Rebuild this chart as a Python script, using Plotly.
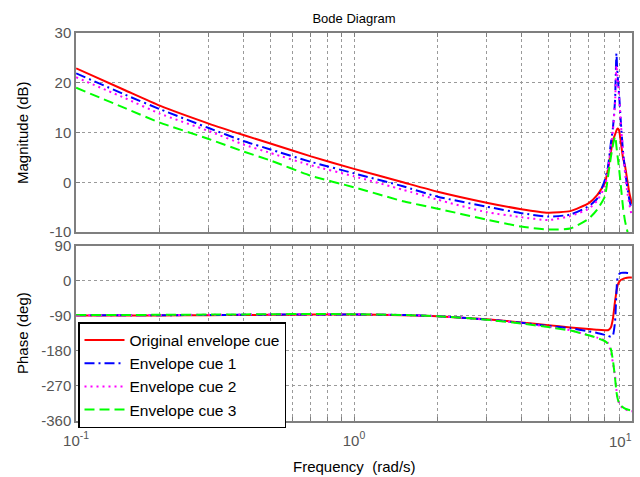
import plotly.graph_objects as go

# Frequency grid (rad/s)
freq = [0.1, 0.15, 0.2, 0.3, 0.4, 0.5, 0.7, 1.0, 1.5, 2, 3, 4, 5, 6, 7, 7.5, 8, 8.2, 8.4,
        8.55, 8.7, 8.75, 8.8, 8.85, 8.9, 9.0, 9.15, 9.3, 9.45, 9.6, 9.8, 10]

series_names = ["Original envelope cue", "Envelope cue 1", "Envelope cue 2", "Envelope cue 3"]

# Magnitude (dB)
mag_orig = [22.9, 18.5, 15.4, 11.8, 9.5, 7.8, 5.2, 2.7, 0.0, -1.9, -4.1, -5.4, -6.1, -5.8, -4.2, -2.6,
            -0.1, 2.5, 6.0, 8.5, 9.6, 10.0, 10.4, 10.7, 10.8, 10.4, 7.6, 4.8, 3.3, 0.9, -2.2, -4.3]
mag_cue1 = [21.9, 17.6, 14.7, 10.9, 8.3, 6.6, 4.1, 1.8, -0.8, -2.9, -4.9, -6.2, -6.9, -6.5, -4.8, -3.3,
            0.5, 3.0, 7.8, 11.0, 16.5, 21.5, 25.9, 23.0, 21.0, 17.5, 11.2, 6.0, 2.5, -0.5, -3.6, -5.5]
mag_cue2 = [21.1, 16.9, 13.8, 10.3, 7.6, 5.9, 3.4, 1.2, -1.5, -3.5, -6.0, -7.0, -7.6, -6.8, -5.3, -3.7,
            -0.8, 2.5, 7.0, 10.5, 16.0, 20.0, 23.5, 22.0, 20.5, 17.0, 11.0, 6.0, 2.0, -1.5, -4.5, -6.8]
mag_cue3 = [19.0, 14.9, 12.0, 8.7, 6.2, 4.4, 1.3, -1.0, -3.8, -5.3, -7.5, -8.9, -9.5, -9.3, -7.3, -5.5,
            -2.8, 1.0, 5.0, 7.5, 9.2, 8.6, 7.2, 6.0, 4.9, 2.6, -1.3, -5.2, -7.8, -9.5, -11.5, -13.0]

# Phase (deg)
ph_orig = [-89, -89, -89, -88.5, -88, -87.5, -87, -87, -88.5, -91, -99, -107, -114, -120, -124, -126,
           -127, -127, -120, -97, -52, -40, -28, -18, -10, -3, 2.5, 4.5, 6.5, 7.5, 8, 8.5]
ph_cue1 = [-88.5, -88.5, -88.5, -88, -87.5, -87, -86.5, -86.5, -88, -91, -99.5, -108, -116, -122, -130, -134,
           -139, -141, -144, -140, -105, -70, -30, 0, 10, 17, 20, 20.5, 20.5, 20, 19.5, 19]
ph_cue2 = [-88.5, -88.5, -88, -87.5, -87, -86.5, -86, -86, -88, -91, -100, -109, -118, -127, -140, -146,
           -153, -160, -182, -212, -245, -262, -280, -292, -302, -315, -323, -327, -330, -332, -334, -335]
ph_cue3 = [-88, -88, -87.5, -87, -86.5, -86, -85.5, -86, -88, -91, -100, -110, -119, -128, -140, -147,
           -155, -162, -175, -205, -250, -268, -285, -296, -304, -314, -321, -325, -328, -330, -332, -333]

mags = [mag_orig, mag_cue1, mag_cue2, mag_cue3]
phases = [ph_orig, ph_cue1, ph_cue2, ph_cue3]
colors = ["#ff0000", "#0000ff", "#ff00ff", "#00ff00"]
dashes = ["solid", "10px,4px,2px,4px", "2px,4px", "10px,5px"]

mag_ticks = [-10, 0, 10, 20, 30]
phase_ticks = [-360, -270, -180, -90, 0, 90]

fig = go.Figure()
for name, m, c, d in zip(series_names, mags, colors, dashes):
    fig.add_trace(go.Scatter(x=freq, y=m, mode="lines", name=name, showlegend=False,
                             line=dict(color=c, dash=d, width=2, shape="spline", smoothing=0.5),
                             xaxis="x", yaxis="y"))
for name, p, c, d in zip(series_names, phases, colors, dashes):
    fig.add_trace(go.Scatter(x=freq, y=p, mode="lines", name=name, showlegend=True,
                             line=dict(color=c, dash=d, width=2, shape="spline", smoothing=0.5),
                             xaxis="x2", yaxis="y2"))

grid_vals = [0.1, 0.2, 0.3, 0.4, 0.5, 0.6, 0.7, 0.8, 0.9, 1, 2, 3, 4, 5, 6, 7, 8, 9, 10]
grid_text = ["10<sup>-1</sup>" if v == 0.1 else "10<sup>0</sup>" if v == 1 else "" for v in grid_vals]
last_tick_text = "10<sup>1</sup>"

tick_font = dict(family="Liberation Sans, Arial", size=15, color="#555555")
axis_common = dict(showline=True, linecolor="#7f7f7f", linewidth=1.5, mirror="ticks",
                   ticks="inside", ticklen=4, tickcolor="#7f7f7f", automargin=False,
                   showgrid=True, gridcolor="#9a9a9a", griddash="dot", gridwidth=1,
                   zeroline=False, tickfont=tick_font)

xrange_log = [-1.0005, 1.0005]

fig.update_layout(
    width=640, height=477,
    margin=dict(l=76, r=8, t=33, b=56),
    paper_bgcolor="white", plot_bgcolor="white",
    font=dict(family="Liberation Sans, Arial", size=13, color="black"),
    title=dict(text="Bode Diagram", x=0.5, xref="paper", xanchor="center", automargin=False,
               y=1 - 18 / 477, yanchor="middle", font=dict(size=13, color="black")),
    xaxis=dict(type="log", range=xrange_log, domain=[0, 1], anchor="y",
               tickvals=grid_vals, ticktext=[""] * len(grid_vals), **axis_common),
    yaxis=dict(range=[-10, 30], domain=[0.487, 1], anchor="x", tickvals=mag_ticks,
               ticktext=[str(v) for v in mag_ticks], **axis_common),
    xaxis2=dict(type="log", range=xrange_log, domain=[0, 1], anchor="y2",
                tickvals=grid_vals, ticktext=grid_text, ticklabelstandoff=5, **axis_common),
    yaxis2=dict(range=[-360, 90], domain=[0, 0.452], anchor="x2", tickvals=phase_ticks,
                ticktext=[str(v) for v in phase_ticks], **axis_common),
    legend=dict(x=0.0036, y=1 - (322 - 33) / 388, xanchor="left", yanchor="top", bgcolor="white",
                bordercolor="black", borderwidth=1.5, font=dict(size=15.5, color="black"),
                tracegroupgap=0, itemwidth=40),
    showlegend=True,
)

# last decade label, right-aligned at the axis end so it stays inside the figure
fig.add_annotation(text=last_tick_text, xref="paper", yref="paper", x=(634 - 76) / 556,
                   y=1 - (440 - 33) / 388, showarrow=False, xanchor="right", yanchor="middle",
                   font=tick_font)
fig.add_annotation(text="Magnitude (dB)", xref="paper", yref="paper", x=(22 - 76) / 556,
                   y=1 - (132 - 33) / 388, textangle=-90, showarrow=False,
                   xanchor="center", yanchor="middle", font=dict(size=15, color="black"))
fig.add_annotation(text="Phase (deg)", xref="paper", yref="paper", x=(22 - 76) / 556,
                   y=1 - (333 - 33) / 388, textangle=-90, showarrow=False,
                   xanchor="center", yanchor="middle", font=dict(size=15, color="black"))
fig.add_annotation(text="Frequency\u00a0\u00a0(rad/s)", xref="paper", yref="paper", x=0.5,
                   y=1 - (466 - 33) / 388, showarrow=False,
                   xanchor="center", yanchor="middle", font=dict(size=15, color="black"))

fig.write_html("out.html", config={"displayModeBar": False},
               post_script="document.body.style.margin='0px';")
